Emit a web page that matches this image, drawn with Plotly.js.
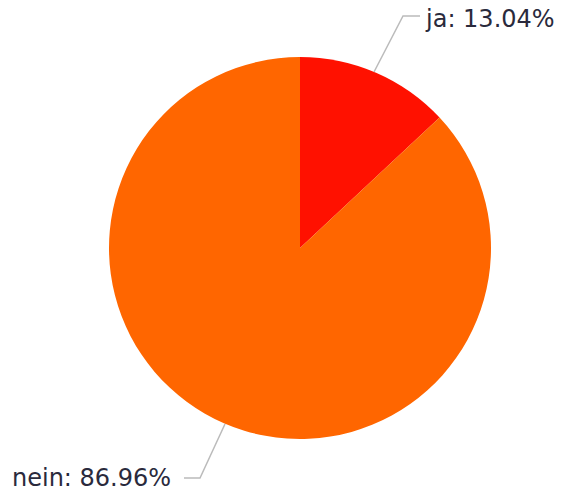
<!DOCTYPE html>
<html>
<head>
<meta charset="utf-8">
<script src="https://cdn.plot.ly/plotly-3.0.1.min.js"></script>
<style>html,body{margin:0;padding:0;background:#fff;}#chart{width:562px;height:492px;}</style>
</head>
<body>
<div id="chart"></div>
<script>
const categories = ["ja", "nein"];
const values = [13.04, 86.96];
const colors = ["#FF1100", "#FF6600"];

const W = 562, H = 492;
const fx = x => x / W;
const fy = y => 1 - y / H;

const cx = 300, cy = 248, r = 191;

const trace = {
  type: "pie",
  labels: categories,
  values: values,
  sort: false,
  direction: "clockwise",
  rotation: 0,
  marker: {colors: colors, line: {width: 0}},
  textinfo: "none",
  hoverinfo: "label+percent",
  domain: {x: [fx(cx - r), fx(cx + r)], y: [fy(cy + r), fy(cy - r)]}
};

const labelText = categories.map((c, i) => c + ": " + values[i].toFixed(2) + "%");
const font = {family: "DejaVu Sans, Verdana, sans-serif", size: 24, color: "#2a2a3c"};

const layout = {
  width: W, height: H,
  margin: {l: 0, r: 0, t: 0, b: 0},
  paper_bgcolor: "#fff",
  showlegend: false,
  annotations: [
    {xref: "paper", yref: "paper", x: fx(423), y: fy(19), xanchor: "left", yanchor: "middle",
     text: labelText[0], showarrow: false, font: font},
    {xref: "paper", yref: "paper", x: fx(173), y: fy(478), xanchor: "right", yanchor: "middle",
     text: labelText[1], showarrow: false, font: font}
  ],
  shapes: [
    {type: "path", xref: "paper", yref: "paper",
     path: `M ${fx(374)} ${fy(72)} L ${fx(403)} ${fy(16)} L ${fx(420)} ${fy(16)}`,
     line: {color: "#bbbbbb", width: 1.5}},
    {type: "path", xref: "paper", yref: "paper",
     path: `M ${fx(225)} ${fy(424)} L ${fx(200)} ${fy(478)} L ${fx(184)} ${fy(478)}`,
     line: {color: "#bbbbbb", width: 1.5}}
  ]
};

Plotly.newPlot("chart", [trace], layout, {displayModeBar: false, staticPlot: true});
</script>
</body>
</html>
